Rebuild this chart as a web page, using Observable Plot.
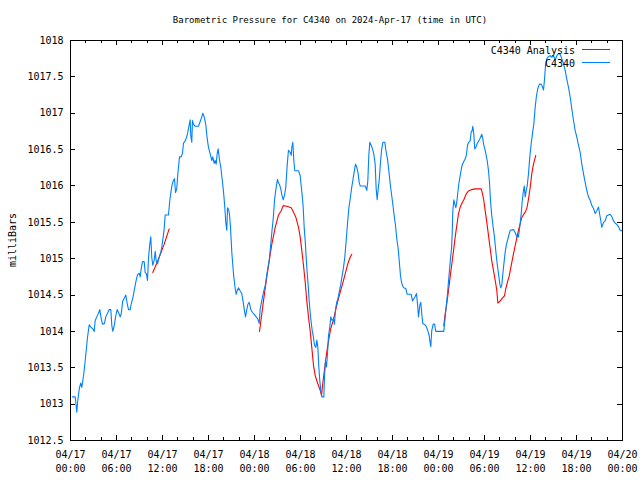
<!DOCTYPE html>
<html><head><meta charset="utf-8">
<script src="https://cdn.jsdelivr.net/npm/d3@7"></script>
<script src="https://cdn.jsdelivr.net/npm/@observablehq/plot@0.6"></script>
<style>
body{margin:0;background:#fff;}
svg text{font-family:"DejaVu Sans Mono",monospace;}
</style>
</head><body><div id="chart"></div>
<script>
const startUTC = Date.UTC(2024, 3, 17, 0, 0);
const titleText = "Barometric Pressure for C4340 on 2024-Apr-17 (time in UTC)";
const yAxisLabel = "milliBars";
const seriesNames = ["C4340 Analysis", "C4340"];
const seriesColors = ["#ff0000", "#0080ff"];

// C4340 observations: hours since 04/17 00:00 UTC, pressure in mb
const blueHours = [0.26,0.61,0.69,0.82,0.95,1.17,1.34,1.47,1.70,1.92,2.05,2.22,2.44,2.65,2.87,3.09,3.22,3.43,3.65,3.82,4.00,4.17,4.43,4.60,4.87,5.05,5.26,5.39,5.52,5.70,5.91,6.09,6.26,6.48,6.61,6.82,7.04,7.21,7.40,7.57,7.79,7.92,8.13,8.31,8.52,8.74,8.96,9.09,9.22,9.39,9.61,9.74,9.91,10.04,10.17,10.34,10.47,10.60,10.73,10.92,11.05,11.18,11.35,11.57,11.78,11.91,12.09,12.22,12.35,12.78,12.95,13.13,13.26,13.40,13.56,13.70,13.86,14.00,14.22,14.44,14.61,14.74,14.96,15.17,15.30,15.48,15.61,15.69,15.82,15.91,16.04,16.26,16.70,16.92,17.13,17.26,17.44,17.65,17.83,18.00,18.22,18.43,18.56,18.74,18.87,19.00,19.13,19.26,19.43,19.60,19.73,19.86,20.00,20.13,20.26,20.39,20.48,20.61,20.74,20.87,21.04,21.17,21.30,21.48,21.61,21.74,21.91,22.17,22.34,22.53,22.70,22.83,22.96,23.13,23.31,23.52,23.74,24.00,24.22,24.43,24.61,24.74,24.95,25.17,25.40,25.56,25.73,25.92,26.09,26.26,26.44,26.61,26.78,27.00,27.13,27.26,27.43,27.56,27.74,27.91,28.08,28.26,28.43,28.66,28.79,28.87,29.00,29.13,29.26,29.74,29.96,30.09,30.22,30.35,30.48,30.61,30.74,30.87,31.00,31.13,31.26,31.39,31.53,31.66,31.83,32.00,32.13,32.26,32.39,32.52,32.65,32.78,33.04,33.13,33.26,33.39,33.52,33.65,33.82,33.95,34.13,34.30,34.43,34.57,34.73,34.92,35.09,35.26,35.44,35.61,35.78,35.96,36.13,36.30,36.48,36.65,36.82,37.00,37.17,37.34,37.52,37.65,37.79,38.44,38.65,38.78,38.91,39.04,39.22,39.39,39.56,39.74,39.87,40.00,40.13,40.26,40.40,40.57,40.74,41.00,41.18,41.35,41.52,41.70,41.87,42.04,42.22,42.39,42.56,42.74,42.91,43.04,43.17,43.30,43.47,43.73,43.92,44.44,44.61,44.78,44.96,45.13,45.26,45.39,45.56,45.69,45.82,45.95,46.26,46.43,46.60,46.79,46.87,46.99,47.12,47.31,47.48,47.65,48.69,48.78,48.91,49.04,49.17,49.30,49.43,49.56,49.70,49.79,49.87,50.00,50.13,50.26,50.39,50.52,50.65,50.78,50.91,51.04,51.26,51.48,51.65,51.78,51.95,52.13,52.26,52.39,52.47,52.60,52.73,52.91,53.08,53.26,53.44,53.65,53.78,53.91,54.09,54.22,54.35,54.52,54.65,54.78,54.95,55.13,55.30,55.47,55.65,55.83,56.00,56.13,56.26,56.39,56.57,56.70,56.83,57.00,57.17,57.35,57.78,58.00,58.21,58.43,58.65,58.79,58.91,59.05,59.18,59.31,59.44,59.57,59.74,59.91,60.09,60.26,60.43,60.61,60.78,60.95,61.17,61.40,61.57,61.70,61.83,61.96,62.13,62.35,62.57,62.78,63.00,63.22,63.43,63.65,63.87,64.08,64.30,64.52,64.73,64.95,65.18,65.39,65.61,65.83,66.04,66.26,66.48,66.69,66.91,67.13,67.34,67.56,67.79,68.00,68.22,68.44,68.65,68.87,69.09,69.30,69.52,69.74,69.95,70.39,70.60,70.82,71.05,71.26,71.48,71.70,72.00];
const blueValues = [1013.10,1013.10,1013.03,1012.89,1013.05,1013.23,1013.29,1013.23,1013.39,1013.60,1013.74,1013.92,1014.09,1014.06,1014.04,1014.00,1014.15,1014.20,1014.25,1014.30,1014.18,1014.10,1014.11,1014.20,1014.26,1014.30,1014.30,1014.08,1014.00,1014.08,1014.22,1014.30,1014.26,1014.20,1014.24,1014.42,1014.46,1014.50,1014.38,1014.30,1014.30,1014.38,1014.46,1014.56,1014.68,1014.78,1014.80,1014.75,1014.86,1014.96,1014.96,1014.81,1014.79,1014.70,1015.00,1015.20,1015.30,1015.02,1014.91,1014.98,1015.10,1014.97,1014.93,1015.02,1015.09,1015.16,1015.30,1015.41,1015.60,1015.60,1015.80,1015.94,1016.02,1016.07,1016.10,1015.91,1015.96,1016.17,1016.40,1016.40,1016.45,1016.59,1016.62,1016.68,1016.74,1016.84,1016.91,1016.69,1016.60,1016.90,1016.85,1016.82,1016.82,1016.89,1016.95,1017.00,1016.95,1016.84,1016.65,1016.53,1016.44,1016.35,1016.40,1016.31,1016.35,1016.30,1016.44,1016.51,1016.36,1016.26,1016.14,1016.02,1015.87,1015.70,1015.49,1015.39,1015.70,1015.68,1015.61,1015.43,1015.09,1014.91,1014.75,1014.59,1014.51,1014.56,1014.60,1014.55,1014.52,1014.40,1014.28,1014.20,1014.28,1014.37,1014.40,1014.30,1014.26,1014.23,1014.20,1014.17,1014.11,1014.31,1014.42,1014.54,1014.63,1014.75,1014.86,1014.98,1015.16,1015.36,1015.55,1015.80,1015.95,1016.09,1016.04,1016.02,1015.96,1015.88,1015.81,1015.87,1015.98,1016.28,1016.49,1016.46,1016.42,1016.53,1016.60,1016.35,1016.21,1016.21,1016.14,1016.00,1015.87,1015.71,1015.43,1015.25,1015.02,1014.81,1014.63,1014.42,1014.26,1014.13,1014.01,1013.94,1013.81,1013.78,1013.88,1013.78,1013.51,1013.32,1013.19,1013.10,1013.10,1013.37,1013.60,1013.51,1013.69,1013.94,1014.06,1014.20,1014.15,1014.17,1014.10,1014.31,1014.40,1014.47,1014.56,1014.65,1014.77,1014.88,1015.02,1015.25,1015.48,1015.69,1015.82,1015.96,1016.07,1016.19,1016.30,1016.26,1016.17,1016.05,1016.00,1016.00,1015.94,1016.07,1016.42,1016.60,1016.56,1016.51,1016.44,1016.30,1015.96,1015.81,1015.96,1016.07,1016.28,1016.49,1016.60,1016.60,1016.46,1016.37,1016.21,1016.03,1015.89,1015.75,1015.59,1015.46,1015.27,1015.14,1014.93,1014.77,1014.68,1014.63,1014.60,1014.59,1014.51,1014.51,1014.42,1014.45,1014.48,1014.52,1014.38,1014.20,1014.36,1014.40,1014.24,1014.11,1014.09,1014.06,1014.01,1013.94,1013.87,1013.79,1014.01,1014.10,1014.10,1014.00,1014.00,1014.10,1014.24,1014.38,1014.52,1014.68,1014.84,1015.00,1015.14,1015.36,1015.66,1015.81,1015.75,1015.70,1015.78,1015.91,1016.03,1016.11,1016.19,1016.27,1016.33,1016.37,1016.43,1016.56,1016.60,1016.62,1016.74,1016.76,1016.82,1016.72,1016.51,1016.54,1016.59,1016.62,1016.66,1016.71,1016.65,1016.56,1016.49,1016.42,1016.35,1016.21,1016.05,1015.80,1015.59,1015.43,1015.30,1015.11,1014.93,1014.79,1014.65,1014.60,1014.64,1014.79,1014.97,1015.09,1015.18,1015.25,1015.32,1015.39,1015.40,1015.36,1015.30,1015.30,1015.48,1015.62,1015.78,1015.91,1016.00,1015.85,1015.94,1016.00,1016.17,1016.40,1016.58,1016.72,1016.85,1017.08,1017.24,1017.34,1017.40,1017.40,1017.36,1017.32,1017.47,1017.66,1017.75,1017.78,1017.79,1017.77,1017.79,1017.73,1017.79,1017.82,1017.81,1017.75,1017.68,1017.59,1017.47,1017.36,1017.22,1017.06,1016.90,1016.76,1016.67,1016.56,1016.46,1016.30,1016.17,1016.05,1015.94,1015.85,1015.80,1015.73,1015.69,1015.62,1015.66,1015.71,1015.57,1015.43,1015.50,1015.52,1015.59,1015.61,1015.58,1015.52,1015.49,1015.47,1015.44,1015.39,1015.38];

// C4340 Analysis: three separate runs
const redHours = [10.73,11.10,11.57,12.22,12.87,
  24.65,24.95,25.30,25.60,25.92,26.26,26.70,27.13,27.48,27.74,28.21,28.79,29.09,29.39,29.74,29.96,30.17,30.39,30.61,30.82,31.04,31.26,31.47,31.70,31.92,32.26,32.57,32.74,32.91,33.09,33.30,33.52,33.74,33.95,34.21,34.52,34.82,35.18,35.48,35.83,36.17,36.48,36.69,
  48.69,48.87,49.08,49.30,49.52,49.74,49.96,50.18,50.39,50.61,50.83,51.04,51.35,51.61,51.91,52.34,52.79,53.57,53.74,53.91,54.09,54.30,54.52,54.74,54.95,55.17,55.40,55.61,55.74,56.05,56.35,56.61,56.78,57.00,57.22,57.56,58.00,58.43,58.87,59.31,59.52,59.74,59.96,60.17,60.39,60.69];
const redValues = [1014.81,1014.90,1015.02,1015.20,1015.41,
  1014.00,1014.24,1014.52,1014.75,1014.97,1015.20,1015.43,1015.60,1015.66,1015.73,1015.72,1015.70,1015.64,1015.57,1015.43,1015.30,1015.11,1014.91,1014.68,1014.42,1014.20,1014.01,1013.78,1013.53,1013.39,1013.28,1013.19,1013.12,1013.29,1013.44,1013.62,1013.78,1013.92,1014.04,1014.13,1014.26,1014.40,1014.54,1014.65,1014.79,1014.93,1015.02,1015.06,
  1014.08,1014.24,1014.38,1014.56,1014.75,1014.93,1015.11,1015.30,1015.46,1015.62,1015.71,1015.76,1015.82,1015.89,1015.93,1015.95,1015.96,1015.96,1015.89,1015.80,1015.66,1015.50,1015.32,1015.14,1014.97,1014.84,1014.70,1014.56,1014.39,1014.42,1014.46,1014.49,1014.59,1014.68,1014.76,1014.95,1015.18,1015.39,1015.57,1015.64,1015.69,1015.82,1015.98,1016.17,1016.30,1016.42];
const redRunLengths = [5, 43, 46];
const redSegment = redRunLengths.flatMap((n, k) => Array(n).fill(k));

const yTicks = [1012.5,1013,1013.5,1014,1014.5,1015,1015.5,1016,1016.5,1017,1017.5,1018];
const yTickLabels = ["1012.5","1013","1013.5","1014","1014.5","1015","1015.5","1016","1016.5","1017","1017.5","1018"];
const xTickHours = [0,6,12,18,24,30,36,42,48,54,60,66,72];
const xTickLabels = ["04/17\n00:00","04/17\n06:00","04/17\n12:00","04/17\n18:00","04/18\n00:00","04/18\n06:00","04/18\n12:00","04/18\n18:00","04/19\n00:00","04/19\n06:00","04/19\n12:00","04/19\n18:00","04/20\n00:00"];
const xMinorHours = [2,4,8,10,14,16,20,22,26,28,32,34,38,40,44,46,50,52,56,58,62,64,68,70];

const toDate = h => new Date(startUTC + h * 3600000);
const blue = blueHours.map((h, i) => ({t: toDate(h), v: blueValues[i]}));
const red = redHours.map((h, i) => ({t: toDate(h), v: redValues[i], s: redSegment[i]}));
const xTickDates = xTickHours.map(toDate);

const plot = Plot.plot({
  width: 640, height: 480,
  marginTop: 40, marginBottom: 40, marginLeft: 70, marginRight: 18,
  style: {fontFamily: "DejaVu Sans Mono", fontSize: "10px", background: "white", color: "black"},
  x: {type: "utc", domain: [toDate(0), toDate(72)]},
  y: {domain: [1012.5, 1018]},
  marks: [
    Plot.axisY(yTicks, {anchor: "left", tickSize: 0, tickPadding: 7, label: null,
      tickFormat: d => yTickLabels[yTicks.indexOf(d)]}),
    Plot.axisX(xTickDates, {anchor: "bottom", tickSize: 0, tickPadding: 8, label: null, lineHeight: 1.4,
      tickFormat: d => xTickLabels[xTickDates.findIndex(e => +e === +d)]}),
    Plot.line(red, {x: "t", y: "v", z: "s", stroke: seriesColors[0], strokeWidth: 1.1}),
    Plot.line(blue, {x: "t", y: "v", stroke: seriesColors[1], strokeWidth: 1.1}),
    Plot.frame({stroke: "black"})
  ]
});
document.getElementById("chart").appendChild(plot);

// inward ticks on all four borders, drawn from Plot's own scales
const svg = d3.select(plot);
const sx = plot.scale("x"), sy = plot.scale("y");
const X = d => sx.apply(d), Y = d => sy.apply(d);
const pL = 70, pR = 622, pT = 40, pB = 440;
const g = svg.append("g").attr("stroke", "black").attr("stroke-width", 1);
function tick(x1, y1, x2, y2) { g.append("line").attr("x1", x1).attr("y1", y1).attr("x2", x2).attr("y2", y2); }
xTickHours.forEach(h => { const x = Math.round(X(toDate(h))) + 0.5; tick(x, pB, x, pB - 5); tick(x, pT, x, pT + 5); });
xMinorHours.forEach(h => { const x = Math.round(X(toDate(h))) + 0.5; tick(x, pB, x, pB - 3); tick(x, pT, x, pT + 3); });
yTicks.forEach(v => { const y = Math.round(Y(v)) + 0.5; tick(pL, y, pL + 5, y); tick(pR, y, pR - 5, y); });

// title, axis label, legend
svg.append("text").attr("x", 330).attr("y", 23).attr("text-anchor", "middle").attr("fill", "black").style("font-size", "9px").text(titleText);
svg.append("text").attr("transform", "translate(16,240) rotate(-90)").attr("text-anchor", "middle").attr("fill", "black").text(yAxisLabel);
seriesNames.forEach((name, i) => {
  const y = 50 + i * 13;
  svg.append("text").attr("x", 575).attr("y", y + 3.5).attr("text-anchor", "end").attr("fill", "black").text(name);
  svg.append("line").attr("x1", 582).attr("x2", 610).attr("y1", y - 0.5).attr("y2", y - 0.5).attr("stroke", seriesColors[i]).attr("stroke-width", 1);
});
</script>
</body></html>
